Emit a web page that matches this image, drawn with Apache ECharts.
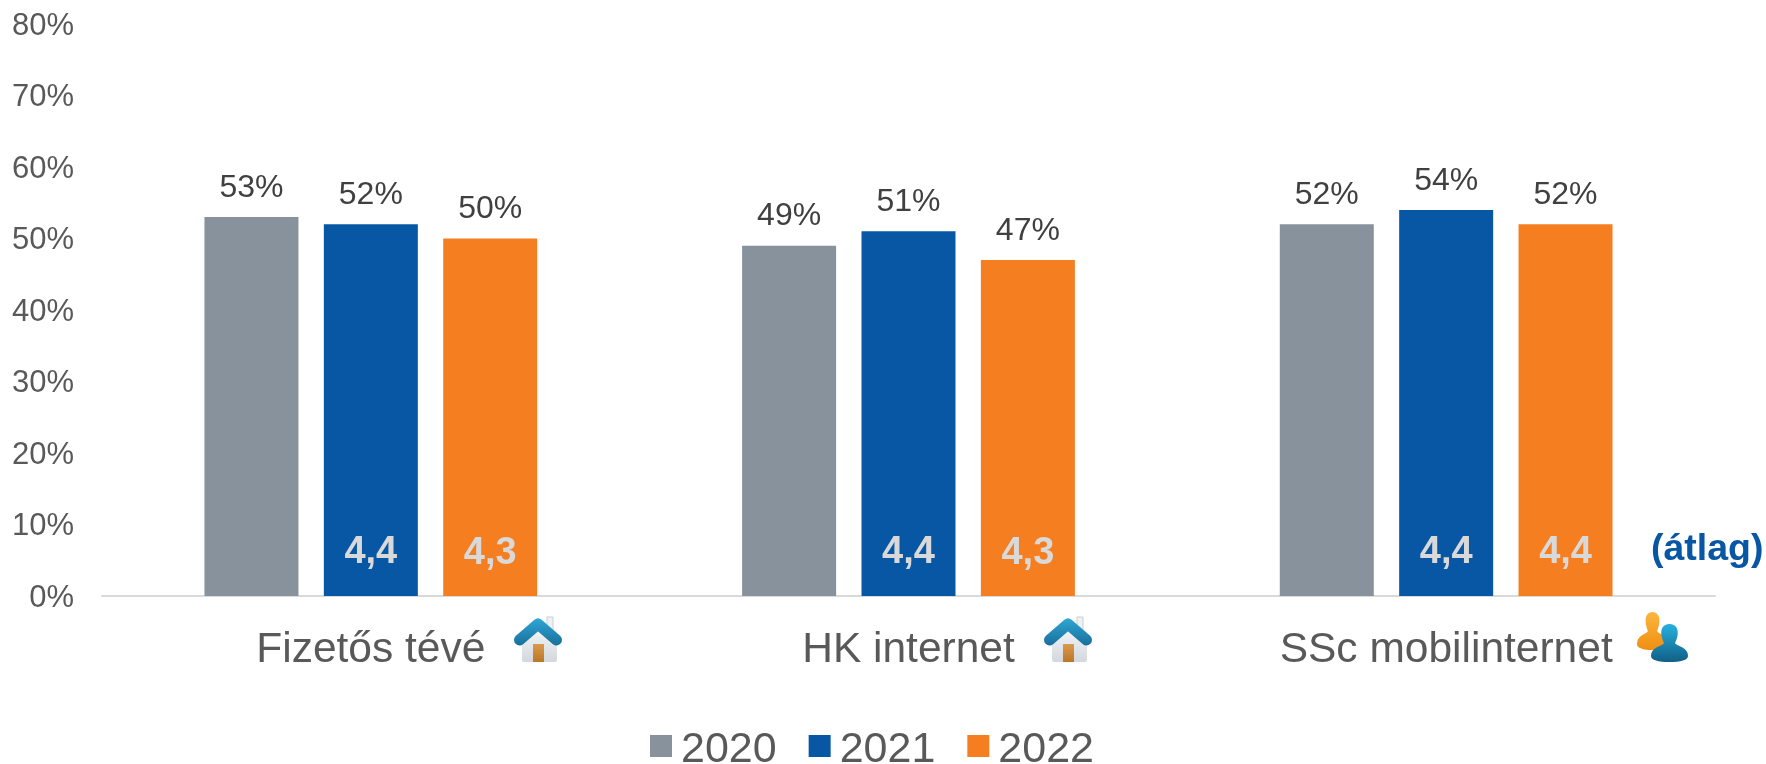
<!DOCTYPE html>
<html>
<head>
<meta charset="utf-8">
<style>html,body{margin:0;padding:0;background:#fff}#chart{width:1766px;height:764px}</style>
<script src="https://cdn.jsdelivr.net/npm/echarts@6/dist/echarts.min.js"></script>
</head>
<body>
<div id="chart"></div>
<script>
const categories = ['Fizetős tévé', 'HK internet', 'SSc mobilinternet'];
const years = ['2020', '2021', '2022'];
const share2020 = [53, 49, 52];
const share2021 = [52, 51, 54];
const share2022 = [50, 47, 52];
const average2021 = [4.4, 4.4, 4.4];
const average2022 = [4.3, 4.3, 4.4];
const yearColors = ['#87929c', '#0757a5', '#f57e20'];
const FONT = '"Liberation Sans", Arial, sans-serif';

function shareSeries(i, values) {
  return {
    name: years[i], type: 'bar', data: values, barWidth: 94, barGap: '27%',
    itemStyle: { color: yearColors[i] },
    label: { show: true, position: 'top', distance: 13, formatter: '{c}%',
             color: '#404040', fontFamily: FONT, fontSize: 32 }
  };
}

// Average scores sit at the foot of the bars on a hidden twin axis pair.
function averageSeries(values) {
  return {
    type: 'bar', xAxisIndex: 1, yAxisIndex: 1, data: values, barWidth: 94, barGap: '27%',
    itemStyle: { color: 'transparent' }, silent: true, legendHoverLink: false, z: 5,
    label: { show: true, position: 'top', distance: -7, color: '#d9d9d9', fontFamily: FONT,
             fontWeight: 'bold', fontSize: 38,
             formatter: p => p.value == null ? '' : String(p.value).replace('.', ',') }
  };
}

function house(dx) {
  return {
    type: 'group', x: dx, y: 0, silent: true,
    children: [
      { type: 'rect', shape: { x: 547, y: 617, width: 6, height: 14 }, style: { fill: '#eef1f3', stroke: '#c9d0d5', lineWidth: 1 } },
      { type: 'rect', shape: { x: 522, y: 630, width: 35, height: 32, r: 2 },
        style: { fill: new echarts.graphic.LinearGradient(0, 0, 0, 1, [{ offset: 0, color: '#f2f4f6' }, { offset: 1, color: '#d3d8dd' }]) } },
      { type: 'rect', shape: { x: 533, y: 644, width: 11, height: 18 },
        style: { fill: new echarts.graphic.LinearGradient(0, 0, 0, 1, [{ offset: 0, color: '#d99a4e' }, { offset: 1, color: '#bd7625' }]) } },
      { type: 'polyline', shape: { points: [[519.5, 640], [538, 624], [556.5, 640]] },
        style: { fill: null, lineWidth: 11, lineCap: 'round', lineJoin: 'round',
                 stroke: new echarts.graphic.LinearGradient(0, 0, 0, 1, [{ offset: 0, color: '#2ea6d4' }, { offset: 1, color: '#1a6f9c' }]) } }
    ]
  };
}

// Head-and-shoulders silhouette on a 100x100 box, registered as a graphic shape.
const PERSON_PATH = 'M50 0C68 0 74 14 72 28C71 38 67 44 65 50C66 54 74 57 84 61C95 66 100 74 100 84C100 95 80 100 50 100C20 100 0 95 0 84C0 74 5 66 16 61C26 57 34 54 35 50C33 44 29 38 28 28C26 14 32 0 50 0Z';
echarts.graphic.registerShape('personIcon', echarts.graphic.extendPath(PERSON_PATH, {}));

function person(x, y, width, height, top, bottom) {
  return {
    type: 'personIcon', silent: true, x, y, scaleX: width / 100, scaleY: height / 100,
    style: { fill: new echarts.graphic.LinearGradient(0, 0, 0, 1, [{ offset: 0, color: top }, { offset: 1, color: bottom }]) }
  };
}

const chart = echarts.init(document.getElementById('chart'), null, { renderer: 'canvas' });
chart.setOption({
  animation: false,
  backgroundColor: '#ffffff',
  grid: { left: 102, right: 51, top: 24, bottom: 168, containLabel: false },
  legend: {
    data: years, left: 650, top: 729, padding: 0, itemWidth: 22, itemHeight: 22, itemGap: 32, icon: 'rect',
    selectedMode: false,
    formatter: name => '{t|' + name + '}',
    textStyle: { rich: { t: { color: '#595959', fontFamily: FONT, fontSize: 43, padding: [9, 0, 0, 4] } } }
  },
  xAxis: [
    { type: 'category', data: categories,
      axisLine: { lineStyle: { color: '#d9d9d9', width: 2 } }, axisTick: { show: false },
      axisLabel: { color: '#595959', fontFamily: FONT, fontSize: 42.5, margin: 33 } },
    { type: 'category', data: categories, show: false }
  ],
  yAxis: [
    { type: 'value', min: 0, max: 80, interval: 10, splitLine: { show: false },
      axisLine: { show: false }, axisTick: { show: false },
      axisLabel: { margin: 28, formatter: '{t|{value}%}',
                   rich: { t: { color: '#595959', fontFamily: FONT, fontSize: 31, padding: [4, 0, 0, 0] } } } },
    { type: 'value', min: 0, max: 80, show: false, splitLine: { show: false } }
  ],
  series: [
    shareSeries(0, share2020),
    shareSeries(1, share2021),
    shareSeries(2, share2022),
    averageSeries([null, null, null]),
    averageSeries(average2021),
    averageSeries(average2022)
  ],
  graphic: [
    { type: 'text', x: 1651, y: 550, silent: true,
      style: { text: '(átlag)', fill: '#0757a5', font: 'bold 37.5px ' + FONT, textVerticalAlign: 'middle' } },
    house(0),
    house(530),
    person(1637, 612, 31, 38, '#fbb63e', '#ef8f12'),
    person(1651, 624, 37, 38, '#27b1de', '#105f85')
  ]
});
</script>
</body>
</html>
